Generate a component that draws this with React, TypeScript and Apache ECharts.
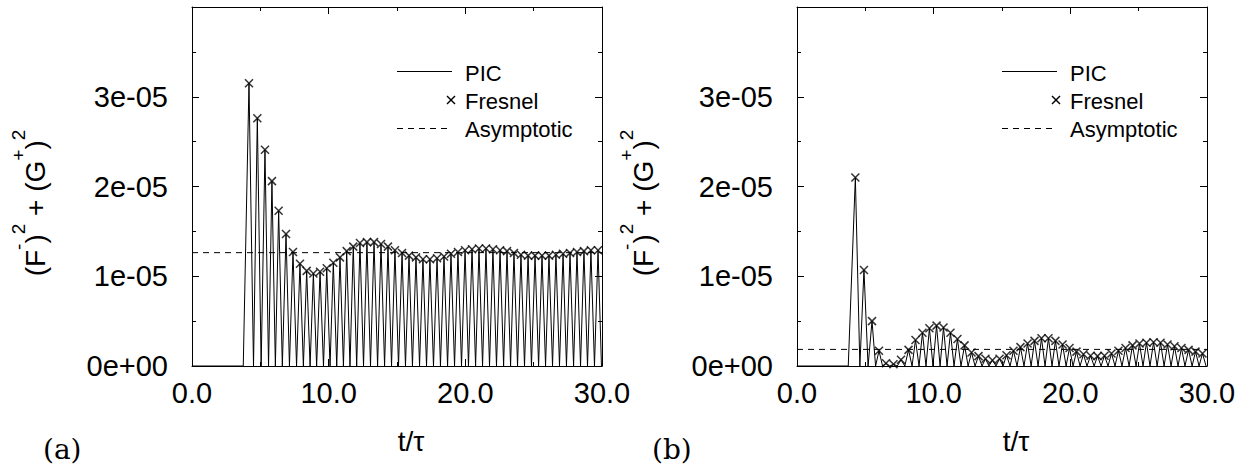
import React, { useEffect, useRef } from "react";
import * as echarts from "echarts";

// Values are in units of 1e-5
const yTickLabels = ["0e+00", "1e-05", "2e-05", "3e-05"];

// Panel (a)
const fresnelA_t = [4.17, 4.78, 5.34, 5.85, 6.34, 6.88, 7.39, 7.90, 8.39, 8.88, 9.37, 9.86, 10.34, 10.83, 11.32, 11.80, 12.29, 12.80, 13.32, 13.83, 14.34, 14.85, 15.37, 15.88, 16.39, 16.90, 17.41, 17.93, 18.44, 18.95, 19.46, 19.98, 20.49, 21.00, 21.51, 22.02, 22.54, 23.05, 23.56, 24.07, 24.59, 25.10, 25.61, 26.12, 26.63, 27.15, 27.66, 28.17, 28.68, 29.19, 29.71];
const fresnelA_v = [3.15, 2.76, 2.41, 2.06, 1.73, 1.47, 1.27, 1.14, 1.06, 1.03, 1.05, 1.09, 1.15, 1.21, 1.28, 1.33, 1.37, 1.38, 1.38, 1.36, 1.33, 1.29, 1.26, 1.23, 1.21, 1.19, 1.19, 1.20, 1.22, 1.25, 1.27, 1.29, 1.30, 1.31, 1.31, 1.30, 1.29, 1.28, 1.26, 1.24, 1.23, 1.23, 1.23, 1.23, 1.24, 1.25, 1.26, 1.27, 1.28, 1.29, 1.29];
const picA_zeroT = [3.75, 4.50, 5.06, 5.60, 6.10, 6.61, 7.13, 7.65, 8.15, 8.64, 9.12, 9.62, 10.10, 10.59, 11.08, 11.56, 12.05, 12.55, 13.06, 13.58, 14.09, 14.60, 15.11, 15.62, 16.13, 16.65, 17.16, 17.67, 18.18, 18.70, 19.21, 19.72, 20.23, 20.75, 21.26, 21.77, 22.28, 22.80, 23.31, 23.82, 24.33, 24.84, 25.36, 25.87, 26.38, 26.89, 27.40, 27.92, 28.43, 28.94, 29.45, 29.96];
const asymptoteA = 1.263;

// Panel (b)
const fresnelB_t = [4.27, 4.90, 5.49, 6.00, 6.51, 7.06, 7.61, 8.16, 8.67, 9.18, 9.69, 10.21, 10.72, 11.23, 11.74, 12.26, 12.77, 13.28, 13.79, 14.30, 14.82, 15.33, 15.84, 16.35, 16.87, 17.38, 17.89, 18.40, 18.91, 19.43, 19.94, 20.45, 20.96, 21.48, 21.99, 22.50, 23.01, 23.52, 24.04, 24.55, 25.06, 25.57, 26.09, 26.60, 27.11, 27.62, 28.13, 28.65, 29.16, 29.67];
const fresnelB_v = [2.10, 1.07, 0.50, 0.17, 0.03, 0.02, 0.07, 0.18, 0.29, 0.37, 0.42, 0.45, 0.43, 0.37, 0.30, 0.23, 0.15, 0.11, 0.08, 0.065, 0.08, 0.12, 0.17, 0.21, 0.25, 0.28, 0.31, 0.31, 0.28, 0.24, 0.20, 0.16, 0.13, 0.115, 0.11, 0.115, 0.14, 0.17, 0.20, 0.23, 0.25, 0.26, 0.265, 0.26, 0.24, 0.22, 0.20, 0.18, 0.16, 0.14];
const picB_zeroT = [3.75, 4.60, 5.20, 5.75, 6.26, 6.79, 7.34, 7.89, 8.42, 8.93, 9.44, 9.95, 10.47, 10.98, 11.49, 12.00, 12.52, 13.03, 13.54, 14.05, 14.56, 15.08, 15.59, 16.10, 16.61, 17.13, 17.64, 18.15, 18.66, 19.17, 19.69, 20.20, 20.71, 21.22, 21.74, 22.25, 22.76, 23.27, 23.78, 24.30, 24.81, 25.32, 25.83, 26.35, 26.86, 27.37, 27.88, 28.39, 28.91, 29.42, 29.93];
const asymptoteB = 0.185;

const legendNames = ["PIC", "Fresnel", "Asymptotic"];
const panelLabels = ["(a)", "(b)"];

const FONT = "'Liberation Sans', Arial, Helvetica, sans-serif";
const SERIF = "'DejaVu Serif', 'Liberation Serif', serif";
const CROSS = "path://M0,0L10,10M0,10L10,0";
const DASH = [6, 5];

function picLine(zeros: number[], peaksT: number[], peaksV: number[]) {
  const pts: number[][] = [[0, 0]];
  for (let i = 0; i < peaksT.length; i++) {
    pts.push([zeros[i], 0]);
    pts.push([peaksT[i], peaksV[i]]);
  }
  pts.push([zeros[zeros.length - 1], 0]);
  return pts;
}

function buildPanel(gi: number, left: number, zeros: number[], pT: number[], pV: number[], asym: number) {
  const top = 7, width = 410, height = 359;
  const xBase: any = {
    type: "value", gridIndex: gi, min: 0, max: 30, interval: 10,
    axisLine: { show: true, onZero: false, lineStyle: { color: "#000", width: 1 } },
    axisTick: { show: true, inside: true, length: 7, lineStyle: { color: "#000", width: 1 } },
    minorTick: { show: true, splitNumber: 2, length: 4, lineStyle: { color: "#000", width: 1 } },
    splitLine: { show: false }, minorSplitLine: { show: false },
  };
  const yBase: any = {
    type: "value", gridIndex: gi, min: 0, max: 4, interval: 1,
    axisLine: { show: true, onZero: false, lineStyle: { color: "#000", width: 1 } },
    axisTick: { show: true, inside: true, length: 7, lineStyle: { color: "#000", width: 1 } },
    minorTick: { show: true, splitNumber: 2, length: 4, lineStyle: { color: "#000", width: 1 } },
    splitLine: { show: false }, minorSplitLine: { show: false },
  };
  const xAxes = [
    { ...xBase, position: "bottom", axisLabel: { show: true, fontSize: 29, fontFamily: FONT, color: "#000", margin: 12, formatter: (v: number) => v.toFixed(1) } },
    { ...xBase, position: "top", axisLabel: { show: false } },
  ];
  const yAxes = [
    { ...yBase, position: "left", axisLabel: { show: true, fontSize: 29, fontFamily: FONT, color: "#000", margin: 24, formatter: (v: number) => yTickLabels[Math.round(v)] ?? "" } },
    { ...yBase, position: "right", axisLabel: { show: false } },
  ];
  const xi = gi * 2, yi = gi * 2;
  const series = [
    {
      type: "line", name: legendNames[0], xAxisIndex: xi, yAxisIndex: yi,
      data: picLine(zeros, pT, pV), showSymbol: false, symbol: "none",
      lineStyle: { color: "#000", width: 1 }, z: 2,
    },
    {
      type: "scatter", name: legendNames[1], xAxisIndex: xi, yAxisIndex: yi,
      data: pT.map((t, i) => [t, pV[i]]), symbol: CROSS, symbolSize: 8,
      itemStyle: { color: "none", borderColor: "#000", borderWidth: 1.5 }, z: 3,
    },
    {
      type: "line", name: legendNames[2], xAxisIndex: xi, yAxisIndex: yi,
      data: [[0, asym], [30, asym]], showSymbol: false, symbol: "none",
      lineStyle: { color: "#000", width: 1, type: DASH }, z: 2,
    },
  ];
  return { grid: { left, top, width, height, containLabel: false }, xAxes, yAxes, series };
}

function panelGraphics(left: number, label: string, lx: number, legX: number, ylx: number) {
  const plotCenterX = left + 205;
  return [
    {
      type: "text", x: ylx, y: 203, rotation: Math.PI / 2,
      style: {
        text: "{m|(F}{s|-}{m|)}{s|2}{m| + (G}{s|+}{m|)}{s|2}",
        align: "center", verticalAlign: "middle", fill: "#000",
        rich: {
          m: { fontSize: 28, fontFamily: FONT, lineHeight: 28, verticalAlign: "bottom", fill: "#000" },
          s: { fontSize: 19, fontFamily: FONT, lineHeight: 40, verticalAlign: "top", fill: "#000" },
        },
      },
    },
    {
      type: "text", x: plotCenterX + 14, y: 441,
      style: { text: "t/τ", fontSize: 28, fontFamily: FONT, fill: "#000", align: "center", verticalAlign: "middle" },
    },
    {
      type: "text", x: lx, y: 449,
      style: { text: label, fontSize: 28, fontFamily: SERIF, fill: "#000", align: "left", verticalAlign: "middle" },
    },
    { type: "line", shape: { x1: legX, y1: 71.5, x2: legX + 55, y2: 71.5 }, style: { stroke: "#000", lineWidth: 1 } },
    { type: "line", shape: { x1: legX + 50, y1: 96, x2: legX + 58, y2: 104 }, style: { stroke: "#000", lineWidth: 1.5 } },
    { type: "line", shape: { x1: legX + 50, y1: 104, x2: legX + 58, y2: 96 }, style: { stroke: "#000", lineWidth: 1.5 } },
    { type: "line", shape: { x1: legX, y1: 128.5, x2: legX + 55, y2: 128.5 }, style: { stroke: "#000", lineWidth: 1, lineDash: DASH } },
    { type: "text", x: legX + 68, y: 73, style: { text: legendNames[0], fontSize: 22, fontFamily: FONT, fill: "#000", align: "left", verticalAlign: "middle" } },
    { type: "text", x: legX + 68, y: 101, style: { text: legendNames[1], fontSize: 22, fontFamily: FONT, fill: "#000", align: "left", verticalAlign: "middle" } },
    { type: "text", x: legX + 68, y: 129, style: { text: legendNames[2], fontSize: 22, fontFamily: FONT, fill: "#000", align: "left", verticalAlign: "middle" } },
  ];
}

export default function App() {
  const ref = useRef<HTMLDivElement>(null);
  useEffect(() => {
    if (!ref.current) return;
    const chart = echarts.init(ref.current, null, { renderer: "svg" });
    const a = buildPanel(0, 192, picA_zeroT, fresnelA_t, fresnelA_v, asymptoteA);
    const b = buildPanel(1, 797, picB_zeroT, fresnelB_t, fresnelB_v, asymptoteB);
    chart.setOption({
      animation: false,
      backgroundColor: "#fff",
      grid: [a.grid, b.grid],
      xAxis: [...a.xAxes, ...b.xAxes],
      yAxis: [...a.yAxes, ...b.yAxes],
      series: [...a.series, ...b.series],
      graphic: [
        ...panelGraphics(192, panelLabels[0], 43, 397, 29),
        ...panelGraphics(797, panelLabels[1], 652, 1002, 637),
      ],
    });
    return () => chart.dispose();
  }, []);
  return (
    <div
      ref={ref}
      style={{ position: "absolute", left: 0, top: 0, width: 1248, height: 476, background: "#fff" }}
    />
  );
}
